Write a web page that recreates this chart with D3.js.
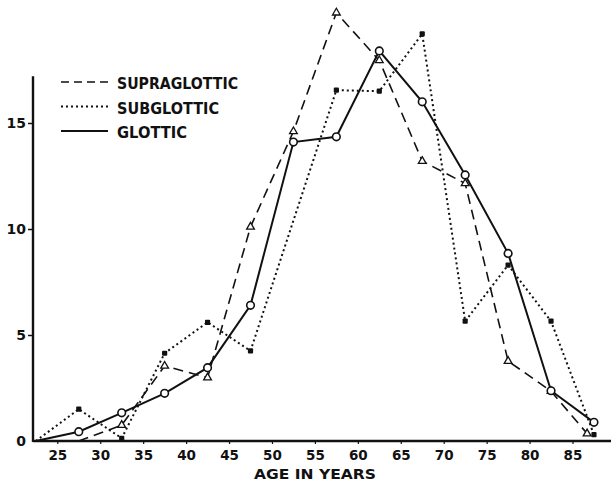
<!DOCTYPE html>
<html>
<head>
<meta charset="utf-8">
<script src="https://cdn.jsdelivr.net/npm/d3@7"></script>
<style>
  html, body { margin: 0; padding: 0; background: #fff; }
  svg { display: block; }
  text { font-family: "DejaVu Sans", sans-serif; font-weight: bold; fill: #111; }
</style>
</head>
<body>
<svg id="chart" width="611" height="483"></svg>
<script>
// ---- data ----
const xTicks = [25, 30, 35, 40, 45, 50, 55, 60, 65, 70, 75, 80, 85];
const yTicks = [0, 5, 10, 15];

const supraAges   = [27.5, 32.5, 37.5, 42.5, 47.5, 52.5, 57.5, 62.5, 67.5, 72.5, 77.5, 82.5, 86.7];
const supraValues = [0,    0.75, 3.54, 2.99, 10.1, 14.6, 20.2, 17.95, 13.2, 12.15, 3.77, 2.35, 0.35];

const subAges   = [22.5, 27.5, 32.5, 37.5, 42.5, 47.5, 57.5, 62.5, 67.5, 72.5, 77.5, 82.5, 87.5];
const subValues = [0,    1.5,  0.13, 4.14, 5.6,  4.25, 16.55, 16.5, 19.2, 5.65, 8.3,  5.65, 0.3];

const glotAges   = [22.5, 27.5, 32.5, 37.5, 42.5, 47.5, 52.5, 57.5, 62.5, 67.5, 72.5, 77.5, 82.5, 87.5];
const glotValues = [0,    0.44, 1.33, 2.25, 3.46, 6.4,  14.1, 14.35, 18.4, 16.0, 12.55, 8.85, 2.37, 0.88];

const legendLabels = ["SUPRAGLOTTIC", "SUBGLOTTIC", "GLOTTIC"];
const xTitle = "AGE IN YEARS";

// ---- scales ----
const svg = d3.select("#chart");
const x = d3.scaleLinear().domain([25, 85]).range([57.3, 572.5]);
const y = d3.scaleLinear().domain([0, 15]).range([441, 123]);
const axisX0 = 33;

const zip = (a, v) => a.map((d, i) => ({ a: d, v: v[i] }));
const supra = zip(supraAges, supraValues);
const sub = zip(subAges, subValues);
const glot = zip(glotAges, glotValues);

const line = d3.line().x(d => x(d.a)).y(d => y(d.v));

// ---- axes ----
const xAxis = d3.axisBottom(x).tickValues(xTicks).tickSize(3).tickPadding(6).tickFormat(d3.format("d"));
const gx = svg.append("g").attr("transform", `translate(0,${y(0)})`).call(xAxis);
gx.select(".domain").remove();
gx.selectAll("line").attr("stroke", "#111").attr("stroke-width", 1.2);
gx.selectAll("text").attr("font-size", 13.5).attr("fill", "#111");

svg.append("line")
  .attr("x1", axisX0).attr("x2", 611)
  .attr("y1", y(0)).attr("y2", y(0))
  .attr("stroke", "#111").attr("stroke-width", 2.6);

const yAxis = d3.axisLeft(y).tickValues(yTicks).tickSize(5).tickPadding(2).tickFormat(d3.format("d"));
const gy = svg.append("g").attr("transform", `translate(${axisX0},0)`).call(yAxis);
gy.select(".domain").remove();
gy.selectAll("line").attr("stroke", "#111").attr("stroke-width", 1.5);
gy.selectAll(".tick").filter(d => d === 0).select("line").remove();
gy.selectAll("text").attr("font-size", 14).attr("fill", "#111");

svg.append("line")
  .attr("x1", axisX0).attr("x2", axisX0)
  .attr("y1", y(0) + 1).attr("y2", y(17.2))
  .attr("stroke", "#111").attr("stroke-width", 2.4);

svg.append("text")
  .attr("x", 254).attr("y", 479)
  .attr("font-size", 13.5)
  .attr("textLength", 122).attr("lengthAdjust", "spacingAndGlyphs")
  .text(xTitle);

// ---- lines ----
svg.append("path").datum(supra).attr("d", line)
  .attr("fill", "none").attr("stroke", "#111").attr("stroke-width", 1.6)
  .attr("stroke-dasharray", "10,6");
svg.append("path").datum(sub).attr("d", line)
  .attr("fill", "none").attr("stroke", "#111").attr("stroke-width", 2)
  .attr("stroke-dasharray", "2,3");
svg.append("path").datum(glot).attr("d", line)
  .attr("fill", "none").attr("stroke", "#111").attr("stroke-width", 2);

// ---- markers ----
const tri = d3.symbol().type(d3.symbolTriangle).size(26);
svg.append("g").selectAll("path").data(supra.filter(d => d.v > 0)).join("path")
  .attr("d", tri)
  .attr("transform", d => `translate(${x(d.a)},${y(d.v)})`)
  .attr("fill", "#fff").attr("stroke", "#111").attr("stroke-width", 1.3);

svg.append("g").selectAll("rect").data(sub.filter(d => d.a > 23)).join("rect")
  .attr("x", d => x(d.a) - 2.6).attr("y", d => y(d.v) - 2.6)
  .attr("width", 5.2).attr("height", 5.2).attr("rx", 1)
  .attr("fill", "#111");

svg.append("g").selectAll("circle").data(glot.filter(d => d.a > 23)).join("circle")
  .attr("cx", d => x(d.a)).attr("cy", d => y(d.v)).attr("r", 3.8)
  .attr("fill", "#fff").attr("stroke", "#111").attr("stroke-width", 1.6);

// ---- legend ----
const legendStyles = [
  { dash: "8,5", w: 1.6 },
  { dash: "2,3", w: 1.8 },
  { dash: null, w: 2 }
];
const legendWidths = [121, 102, 70];
const lg = svg.append("g");
legendLabels.forEach((lab, i) => {
  const yy = 82 + i * 24.5;
  lg.append("line")
    .attr("x1", 61).attr("x2", 108).attr("y1", yy).attr("y2", yy)
    .attr("stroke", "#111").attr("stroke-width", legendStyles[i].w)
    .attr("stroke-dasharray", legendStyles[i].dash);
  lg.append("text")
    .attr("x", 117).attr("y", yy + 7)
    .attr("font-size", 15.5)
    .attr("textLength", legendWidths[i]).attr("lengthAdjust", "spacingAndGlyphs")
    .text(lab);
});
</script>
</body>
</html>
